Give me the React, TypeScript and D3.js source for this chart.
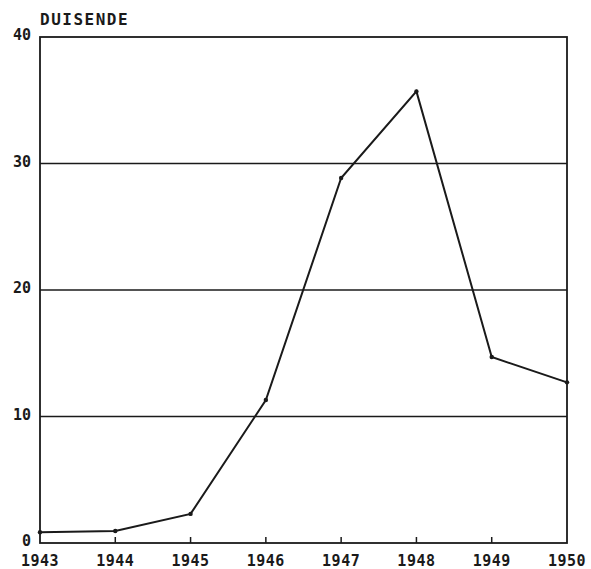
import React, { useEffect, useRef } from "react";
import * as d3 from "d3";

// values in thousands
const years = [1943, 1944, 1945, 1946, 1947, 1948, 1949, 1950];
const values = [0.85, 0.95, 2.3, 11.3, 28.85, 35.7, 14.7, 12.7];
const yTicks = [0, 10, 20, 30, 40];
const yLabel = "DUISENDE";

const App = () => {
  const ref = useRef<SVGSVGElement>(null);

  useEffect(() => {
    const svg = d3.select(ref.current);
    svg.selectAll("*").remove();

    const margin = { top: 37, right: 24, bottom: 26, left: 40 },
      W = 591,
      H = 569,
      width = W - margin.left - margin.right,
      height = H - margin.top - margin.bottom;

    const g = svg.append("g").attr("transform", `translate(${margin.left},${margin.top})`);

    const x = d3.scaleLinear().domain([1943, 1950]).range([0, width]);
    const y = d3.scaleLinear().domain([0, 40]).range([height, 0]);

    const ink = "#1a1a1a";
    const font = "'DejaVu Sans Mono', 'Liberation Mono', monospace";

    // horizontal grid lines
    g.selectAll(".grid")
      .data(yTicks.filter(t => t > 0 && t < 40))
      .enter()
      .append("line")
      .attr("x1", 0)
      .attr("x2", width)
      .attr("y1", d => y(d))
      .attr("y2", d => y(d))
      .attr("stroke", ink)
      .attr("stroke-width", 1.3);

    // frame
    g.append("rect")
      .attr("width", width)
      .attr("height", height)
      .attr("fill", "none")
      .attr("stroke", ink)
      .attr("stroke-width", 1.8);

    // small year ticks on the base line
    g.selectAll(".xtick")
      .data(years.slice(1, -1))
      .enter()
      .append("line")
      .attr("x1", d => x(d))
      .attr("x2", d => x(d))
      .attr("y1", height)
      .attr("y2", height - 6)
      .attr("stroke", ink)
      .attr("stroke-width", 1.5);

    // year labels
    g.selectAll(".xlab")
      .data(years)
      .enter()
      .append("text")
      .attr("x", d => x(d))
      .attr("y", height + 23)
      .attr("text-anchor", "middle")
      .style("font-family", font)
      .style("font-weight", "bold")
      .style("font-size", "15px")
      .style("letter-spacing", "0.5px")
      .attr("fill", ink)
      .text(d => d);

    // value labels
    g.selectAll(".ylab")
      .data(yTicks)
      .enter()
      .append("text")
      .attr("x", -9)
      .attr("y", d => y(d))
      .attr("dy", "0.2em")
      .attr("text-anchor", "end")
      .style("font-family", font)
      .style("font-weight", "bold")
      .style("font-size", "15px")
      .attr("fill", ink)
      .text(d => d);

    // unit label
    g.append("text")
      .attr("x", 0)
      .attr("y", -12)
      .style("font-family", font)
      .style("font-weight", "bold")
      .style("font-size", "16px")
      .style("letter-spacing", "1.5px")
      .attr("fill", ink)
      .text(yLabel);

    // the line
    const line = d3.line<number>()
      .x((d, i) => x(years[i]))
      .y(d => y(d));

    g.append("path")
      .datum(values)
      .attr("d", line)
      .attr("fill", "none")
      .attr("stroke", ink)
      .attr("stroke-width", 2);

    g.selectAll(".pt")
      .data(values)
      .enter()
      .append("circle")
      .attr("cx", (d, i) => x(years[i]))
      .attr("cy", d => y(d))
      .attr("r", 2.2)
      .attr("fill", ink);
  }, []);

  return (
    <svg
      ref={ref}
      width={591}
      height={569}
      style={{ position: "absolute", left: 0, top: 0, background: "#fff" }}
    />
  );
};

export default App;
